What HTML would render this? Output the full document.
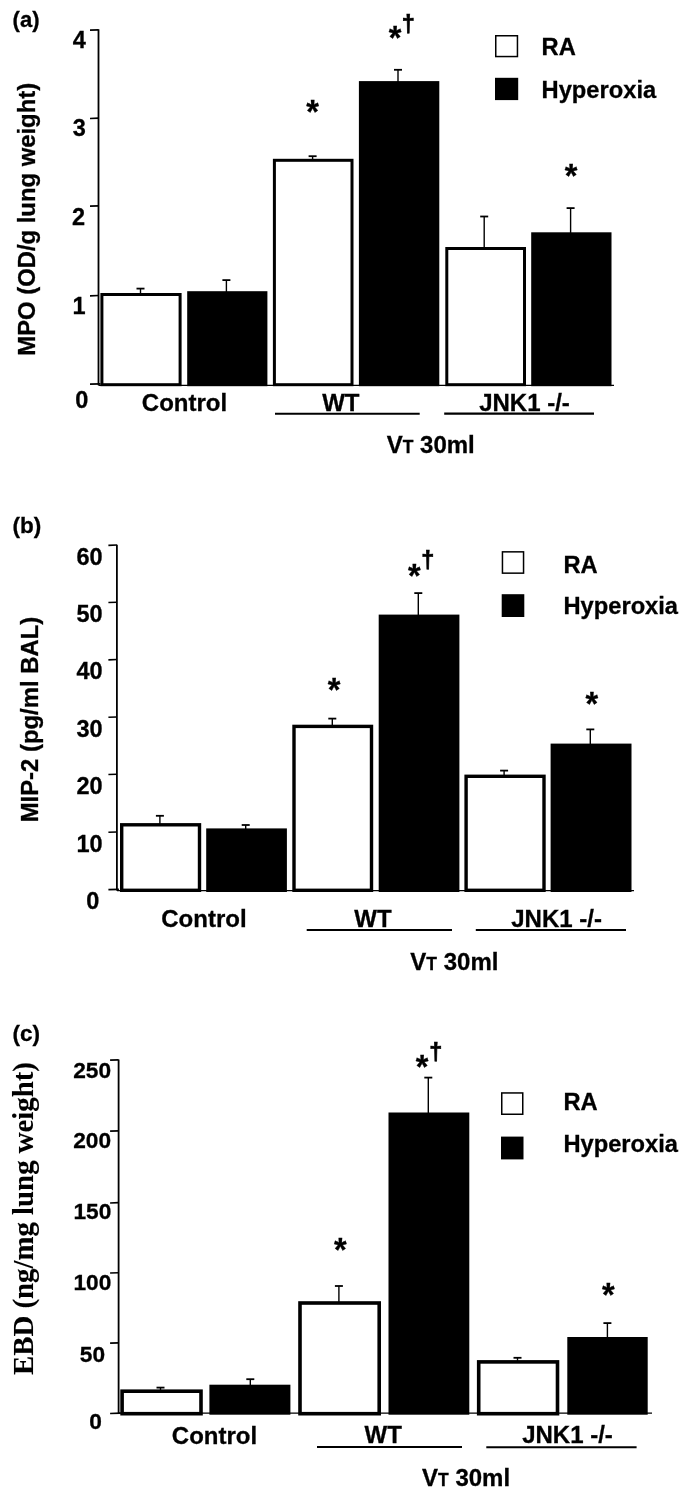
<!DOCTYPE html>
<html><head><meta charset="utf-8"><title>Figure</title>
<style>
html,body{margin:0;padding:0;background:#fff}
svg{display:block}
text{font-family:"Liberation Sans",sans-serif;font-weight:bold;fill:#000;stroke:#000;stroke-width:0.3px}
</style></head><body>
<svg width="685" height="1506" viewBox="0 0 685 1506">
<rect width="685" height="1506" fill="#fff"/>
<g><text x="12.6" y="27" text-anchor="start" font-size="22" >(a)</text>
<text transform="translate(35 219.3) rotate(-90)" text-anchor="middle" font-size="23" textLength="272.8" lengthAdjust="spacingAndGlyphs">MPO (OD/g lung weight)</text>
<path d="M98.5 29.3V385.3" stroke="#000" stroke-width="1.8" fill="none"/>
<path d="M98.5 385.3H614" stroke="#000" stroke-width="1.2" fill="none"/>
<path d="M90.0 384.15L100.5 383.85" stroke="#000" stroke-width="1.6" fill="none"/>
<path d="M90.0 30.15L98.5 29.85" stroke="#000" stroke-width="1.6" fill="none"/>
<text x="72.66" y="47.5" text-anchor="start" font-size="23.5" >4</text>
<path d="M90.0 118.45L98.5 118.15" stroke="#000" stroke-width="1.6" fill="none"/>
<text x="72.68" y="135.8" text-anchor="start" font-size="23.5" >3</text>
<path d="M90.0 206.15L98.5 205.85" stroke="#000" stroke-width="1.6" fill="none"/>
<text x="72.07" y="225.4" text-anchor="start" font-size="23.5" >2</text>
<path d="M90.0 295.85L98.5 295.55" stroke="#000" stroke-width="1.6" fill="none"/>
<text x="72.58" y="313.6" text-anchor="start" font-size="23.5" >1</text>
<text x="75.17" y="408.2" text-anchor="start" font-size="23.5" >0</text>
<path d="M140.5 294V288.6" stroke="#000" stroke-width="1.4" fill="none"/><path d="M136.5 288.6H144.5" stroke="#000" stroke-width="1.8" fill="none"/>
<path d="M226.4 292V280.1" stroke="#000" stroke-width="1.4" fill="none"/><path d="M222.4 280.1H230.4" stroke="#000" stroke-width="1.8" fill="none"/>
<path d="M312.6 160V156.2" stroke="#000" stroke-width="1.4" fill="none"/><path d="M308.6 156.2H316.6" stroke="#000" stroke-width="1.8" fill="none"/>
<path d="M398.0 82V69.8" stroke="#000" stroke-width="1.4" fill="none"/><path d="M394.0 69.8H402.0" stroke="#000" stroke-width="1.8" fill="none"/>
<path d="M484.2 248V216.5" stroke="#000" stroke-width="1.4" fill="none"/><path d="M480.2 216.5H488.2" stroke="#000" stroke-width="1.8" fill="none"/>
<path d="M570.6 233V208.1" stroke="#000" stroke-width="1.4" fill="none"/><path d="M566.6 208.1H574.6" stroke="#000" stroke-width="1.8" fill="none"/>
<rect x="101.9" y="294.5" width="78.2" height="90.2" fill="#fff" stroke="#000" stroke-width="3.0"/>
<rect x="187.2" y="291.2" width="80.2" height="95.0" fill="#000"/>
<rect x="274.4" y="160.3" width="77.6" height="224.4" fill="#fff" stroke="#000" stroke-width="3.0"/>
<rect x="358.9" y="81.1" width="80.4" height="305.1" fill="#000"/>
<rect x="446.8" y="248.5" width="77.7" height="136.2" fill="#fff" stroke="#000" stroke-width="3.0"/>
<rect x="531.2" y="232.3" width="80.3" height="153.9" fill="#000"/>
<text x="312.7" y="122.72" text-anchor="middle" font-size="32.5" >*</text>
<text x="395" y="49.22" text-anchor="middle" font-size="32.5" >*</text>
<text x="571.0" y="187.22" text-anchor="middle" font-size="32.5" >*</text>
<text x="408.4" y="31.8" text-anchor="middle" font-size="23.5" style="stroke-width:0.7px">†</text>
<rect x="495.75" y="35.75" width="21.7" height="20.8" fill="#fff" stroke="#000" stroke-width="1.5"/>
<rect x="495" y="77.8" width="23.2" height="22.3" fill="#000"/>
<text x="541.6" y="55" text-anchor="start" font-size="23.7" >RA</text>
<text x="541.6" y="98.2" text-anchor="start" font-size="23.7" >Hyperoxia</text>
<text x="184.5" y="410.5" text-anchor="middle" font-size="24" >Control</text>
<text x="340.8" y="410.5" text-anchor="middle" font-size="24" >WT</text>
<text x="524.5" y="410.5" text-anchor="middle" font-size="24" >JNK1 -/-</text>
<path d="M275 413.8H419.7" stroke="#000" stroke-width="2.1" fill="none"/>
<path d="M444.2 413.6H594" stroke="#000" stroke-width="2.1" fill="none"/>
<text x="386.7" y="453.2" font-size="24">V<tspan font-size="17.5">T</tspan> 30ml</text></g>
<g><text x="12.6" y="533" text-anchor="start" font-size="22.5" >(b)</text>
<text transform="translate(38 719.6) rotate(-90)" text-anchor="middle" font-size="23.5" textLength="205.5" lengthAdjust="spacingAndGlyphs">MIP-2 (pg/ml BAL)</text>
<path d="M116.9 544.7V890.6" stroke="#000" stroke-width="1.8" fill="none"/>
<path d="M116.9 890.6H634" stroke="#000" stroke-width="1.2" fill="none"/>
<path d="M108.4 889.65L118.9 889.35" stroke="#000" stroke-width="1.6" fill="none"/>
<path d="M108.4 545.35L116.9 545.05" stroke="#000" stroke-width="1.6" fill="none"/>
<text x="76.42" y="564.5" text-anchor="start" font-size="23.5" >60</text>
<path d="M108.4 602.55L116.9 602.25" stroke="#000" stroke-width="1.6" fill="none"/>
<text x="76.42" y="621.8" text-anchor="start" font-size="23.5" >50</text>
<path d="M108.4 659.85L116.9 659.55" stroke="#000" stroke-width="1.6" fill="none"/>
<text x="76.42" y="679.1" text-anchor="start" font-size="23.5" >40</text>
<path d="M108.4 717.25L116.9 716.95" stroke="#000" stroke-width="1.6" fill="none"/>
<text x="76.42" y="736.5" text-anchor="start" font-size="23.5" >30</text>
<path d="M108.4 774.55L116.9 774.25" stroke="#000" stroke-width="1.6" fill="none"/>
<text x="76.42" y="794.1" text-anchor="start" font-size="23.5" >20</text>
<path d="M108.4 832.25L116.9 831.95" stroke="#000" stroke-width="1.6" fill="none"/>
<text x="76.42" y="851.7" text-anchor="start" font-size="23.5" >10</text>
<text x="86.27" y="908.8" text-anchor="start" font-size="23.5" >0</text>
<path d="M159.9 824V815.8" stroke="#000" stroke-width="1.4" fill="none"/><path d="M155.9 815.8H163.9" stroke="#000" stroke-width="1.8" fill="none"/>
<path d="M245.7 829V825" stroke="#000" stroke-width="1.4" fill="none"/><path d="M241.7 825H249.7" stroke="#000" stroke-width="1.8" fill="none"/>
<path d="M332.3 726V718.6" stroke="#000" stroke-width="1.4" fill="none"/><path d="M328.3 718.6H336.3" stroke="#000" stroke-width="1.8" fill="none"/>
<path d="M418.3 615V593.1" stroke="#000" stroke-width="1.4" fill="none"/><path d="M414.3 593.1H422.3" stroke="#000" stroke-width="1.8" fill="none"/>
<path d="M504.1 776V770.6" stroke="#000" stroke-width="1.4" fill="none"/><path d="M500.1 770.6H508.1" stroke="#000" stroke-width="1.8" fill="none"/>
<path d="M590.3 745V729.4" stroke="#000" stroke-width="1.4" fill="none"/><path d="M586.3 729.4H594.3" stroke="#000" stroke-width="1.8" fill="none"/>
<rect x="121.7" y="824.8" width="77.8" height="65.5" fill="#fff" stroke="#000" stroke-width="3.4"/>
<rect x="206.2" y="828.4" width="80.7" height="63.6" fill="#000"/>
<rect x="294.0" y="726.4" width="77.5" height="163.9" fill="#fff" stroke="#000" stroke-width="3.4"/>
<rect x="378.7" y="614.6" width="80.7" height="277.4" fill="#000"/>
<rect x="466.1" y="776.3" width="77.9" height="114" fill="#fff" stroke="#000" stroke-width="3.4"/>
<rect x="550.6" y="743.6" width="80.9" height="148.4" fill="#000"/>
<text x="334" y="701.32" text-anchor="middle" font-size="32.5" >*</text>
<text x="414.3" y="586.92" text-anchor="middle" font-size="32.5" >*</text>
<text x="591.8" y="714.82" text-anchor="middle" font-size="32.5" >*</text>
<text x="427.8" y="567.8" text-anchor="middle" font-size="23.5" style="stroke-width:0.7px">†</text>
<rect x="502.45" y="551.85" width="21.1" height="21.3" fill="#fff" stroke="#000" stroke-width="1.5"/>
<rect x="501.7" y="594.2" width="22.6" height="22.8" fill="#000"/>
<text x="563.5" y="572.6" text-anchor="start" font-size="23.7" >RA</text>
<text x="563.5" y="614.4" text-anchor="start" font-size="23.7" >Hyperoxia</text>
<text x="203.9" y="926.8" text-anchor="middle" font-size="24" >Control</text>
<text x="372.9" y="927" text-anchor="middle" font-size="24" >WT</text>
<text x="556.6" y="927" text-anchor="middle" font-size="24" >JNK1 -/-</text>
<path d="M306.7 930H452" stroke="#000" stroke-width="2.1" fill="none"/>
<path d="M475.8 930H626" stroke="#000" stroke-width="2.1" fill="none"/>
<text x="410.3" y="969.6" font-size="24">V<tspan font-size="17.5">T</tspan> 30ml</text></g>
<g><text x="12.6" y="1040.5" text-anchor="start" font-size="22.5" >(c)</text>
<text transform="translate(33.4 1218.5) rotate(-90)" text-anchor="middle" font-size="28.8" style="font-family:'Liberation Serif',serif;stroke-width:0.1px">EBD (ng/mg lung weight)</text>
<path d="M118.6 1059.6V1413.2" stroke="#000" stroke-width="1.8" fill="none"/>
<path d="M118.6 1413.2H652" stroke="#000" stroke-width="1.2" fill="none"/>
<path d="M110.1 1413.45L120.6 1413.15" stroke="#000" stroke-width="1.6" fill="none"/>
<path d="M110.1 1060.15L118.6 1059.85" stroke="#000" stroke-width="1.6" fill="none"/>
<text x="73.26" y="1078.1" text-anchor="start" font-size="22.7" >250</text>
<path d="M110.1 1131.15L118.6 1130.85" stroke="#000" stroke-width="1.6" fill="none"/>
<text x="73.26" y="1148.1" text-anchor="start" font-size="22.7" >200</text>
<path d="M110.1 1202.95L118.6 1202.65" stroke="#000" stroke-width="1.6" fill="none"/>
<text x="73.46" y="1219.3" text-anchor="start" font-size="22.7" >150</text>
<path d="M110.1 1273.05L118.6 1272.75" stroke="#000" stroke-width="1.6" fill="none"/>
<text x="73.46" y="1289.6" text-anchor="start" font-size="22.7" >100</text>
<path d="M110.1 1343.15L118.6 1342.85" stroke="#000" stroke-width="1.6" fill="none"/>
<text x="79.78" y="1361.6" text-anchor="start" font-size="22.7" >50</text>
<text x="89.3" y="1428.7" text-anchor="start" font-size="22.7" >0</text>
<path d="M160.5 1391V1387.6" stroke="#000" stroke-width="1.4" fill="none"/><path d="M156.5 1387.6H164.5" stroke="#000" stroke-width="1.8" fill="none"/>
<path d="M250.3 1386V1379.2" stroke="#000" stroke-width="1.4" fill="none"/><path d="M246.3 1379.2H254.3" stroke="#000" stroke-width="1.8" fill="none"/>
<path d="M338.9 1302V1286" stroke="#000" stroke-width="1.4" fill="none"/><path d="M334.9 1286H342.9" stroke="#000" stroke-width="1.8" fill="none"/>
<path d="M428.3 1113V1077.6" stroke="#000" stroke-width="1.4" fill="none"/><path d="M424.3 1077.6H432.3" stroke="#000" stroke-width="1.8" fill="none"/>
<path d="M517.5 1362V1357.8" stroke="#000" stroke-width="1.4" fill="none"/><path d="M513.5 1357.8H521.5" stroke="#000" stroke-width="1.8" fill="none"/>
<path d="M607.4 1338V1323.1" stroke="#000" stroke-width="1.4" fill="none"/><path d="M603.4 1323.1H611.4" stroke="#000" stroke-width="1.8" fill="none"/>
<rect x="122.1" y="1391.2" width="78.9" height="22.5" fill="#fff" stroke="#000" stroke-width="3.6"/>
<rect x="209.4" y="1384.7" width="81" height="30.0" fill="#000"/>
<rect x="300.0" y="1303.0" width="79.2" height="110.7" fill="#fff" stroke="#000" stroke-width="3.6"/>
<rect x="388.5" y="1112.5" width="80.8" height="302.2" fill="#000"/>
<rect x="478.7" y="1361.9" width="78.8" height="51.8" fill="#fff" stroke="#000" stroke-width="3.6"/>
<rect x="567.3" y="1337" width="80.4" height="77.7" fill="#000"/>
<text x="340.3" y="1260.62" text-anchor="middle" font-size="32.5" >*</text>
<text x="422" y="1078.32" text-anchor="middle" font-size="32.5" >*</text>
<text x="608.3" y="1305.82" text-anchor="middle" font-size="32.5" >*</text>
<text x="435.9" y="1059.9" text-anchor="middle" font-size="23.5" style="stroke-width:0.7px">†</text>
<rect x="501.75" y="1092.95" width="21.0" height="21.3" fill="#fff" stroke="#000" stroke-width="1.5"/>
<rect x="501" y="1136.6" width="22.5" height="22.8" fill="#000"/>
<text x="563.4" y="1109.7" text-anchor="start" font-size="23.7" >RA</text>
<text x="563.4" y="1151.6" text-anchor="start" font-size="23.7" >Hyperoxia</text>
<text x="214.5" y="1443.5" text-anchor="middle" font-size="24" >Control</text>
<text x="383.2" y="1443" text-anchor="middle" font-size="24" >WT</text>
<text x="567.5" y="1443" text-anchor="middle" font-size="24" >JNK1 -/-</text>
<path d="M317 1447H462" stroke="#000" stroke-width="2.1" fill="none"/>
<path d="M486.3 1447.2H636.6" stroke="#000" stroke-width="2.1" fill="none"/>
<text x="422" y="1485.9" font-size="24">V<tspan font-size="17.5">T</tspan> 30ml</text></g>
</svg>
</body></html>
